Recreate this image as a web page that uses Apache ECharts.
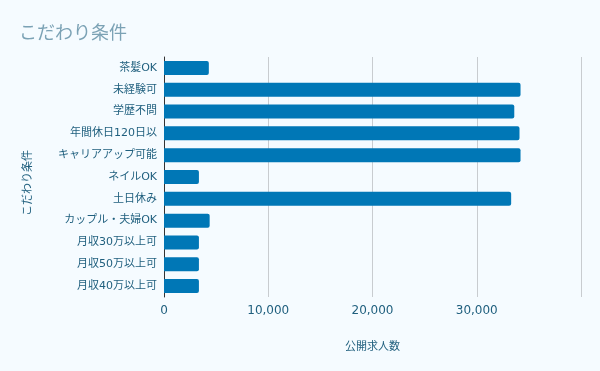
<!DOCTYPE html>
<html><head><meta charset="utf-8">
<script src="https://cdn.jsdelivr.net/npm/echarts@6/dist/echarts.min.js"></script>
<style>html,body{margin:0;padding:0;background:#f5fbff}#c{width:600px;height:371px}</style>
</head><body><div id="c"></div>
<script>
const categories = ['茶髪OK','未経験可','学歴不問','年間休日120日以','キャリアアップ可能','ネイルOK','土日休み','カップル・夫婦OK','月収30万以上可','月収50万以上可','月収40万以上可'];
const values = [4300, 34200, 33600, 34100, 34200, 3350, 33300, 4380, 3350, 3350, 3350];
const titleText = 'こだわり条件';
const xName = '公開求人数';
const yName = 'こだわり条件';

const font = '"DejaVu Sans", "Noto Sans CJK JP", sans-serif';
const chart = echarts.init(document.getElementById('c'));
chart.setOption({
  backgroundColor: '#f5fbff',
  animation: false,
  title: { text: titleText, left: 14, top: 18, textStyle: { fontFamily: '"Noto Sans CJK JP", sans-serif', fontSize: 18, fontWeight: 'normal', color: '#7ba2b5' } },
  grid: { left: 164, right: 19, top: 57, bottom: 74 },
  xAxis: {
    type: 'value', min: 0, max: 40000, interval: 10000,
    name: xName, nameLocation: 'middle', nameGap: 45,
    nameTextStyle: { fontFamily: font, fontSize: 11, color: '#1f5f7e' },
    axisLine: { show: false }, axisTick: { show: false },
    splitLine: { lineStyle: { color: '#c8ccd0', width: 1 } },
    axisLabel: { fontFamily: font, fontSize: 12, color: '#1f5f7e', margin: 8,
      formatter: v => v === 40000 ? '' : v.toLocaleString('en-US') }
  },
  yAxis: {
    type: 'category', data: categories, inverse: true,
    name: yName, nameLocation: 'middle', nameGap: 130, nameRotate: 90,
    nameTextStyle: { fontFamily: font, fontSize: 11, color: '#1f5f7e', padding: [0, 12, 0, 0] },
    axisLine: { lineStyle: { color: '#333', width: 1 } },
    axisTick: { show: false },
    axisLabel: { fontFamily: font, fontSize: 11, color: '#1f5f7e', margin: 7 }
  },
  series: [{
    type: 'bar', data: values, barWidth: 14,
    itemStyle: { color: '#0077b6', borderRadius: [0, 2, 2, 0] }
  }]
});
</script></body></html>
